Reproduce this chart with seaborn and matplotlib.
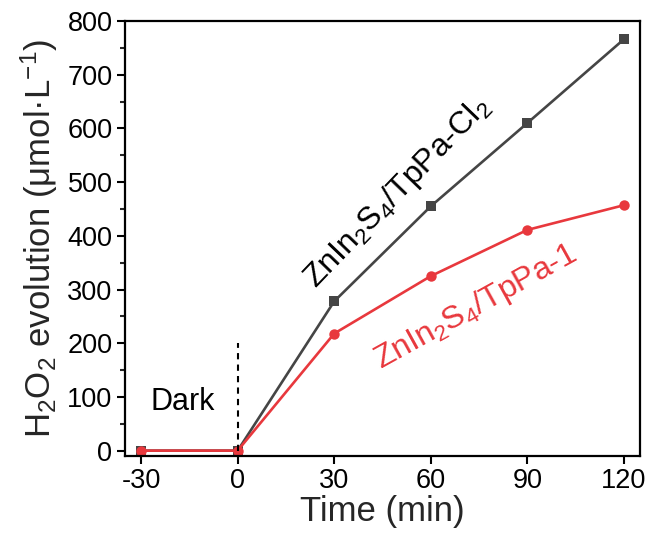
import matplotlib
matplotlib.use("Agg")
import matplotlib.pyplot as plt
import seaborn as sns
import pandas as pd
from matplotlib.ticker import MultipleLocator

time = [-30, 0, 30, 60, 90, 120]
cl2_values = [0, 0, 278, 455, 610, 766]
tp1_values = [0, 0, 218, 325, 411, 457]
x_ticks = [-30, 0, 30, 60, 90, 120]
y_ticks = [0, 100, 200, 300, 400, 500, 600, 700, 800]

sns.set_theme(style="ticks")
plt.rcParams['font.family'] = ['Liberation Sans', 'DejaVu Sans']
plt.rcParams['mathtext.fontset'] = 'custom'
plt.rcParams['mathtext.rm'] = 'Liberation Sans'
plt.rcParams['mathtext.it'] = 'Liberation Sans'

fig = plt.figure(figsize=(6.52, 5.35), dpi=100)
ax = fig.add_axes([125/652, 1-456/535, (640-125)/652, (456-21)/535])

df_cl2 = pd.DataFrame({"t": time, "v": cl2_values})
df_tp1 = pd.DataFrame({"t": time, "v": tp1_values})
gray = "#454545"
red = "#E8383D"
sns.lineplot(data=df_cl2, x="t", y="v", ax=ax, color=gray, lw=1.9,
             marker="s", markersize=6.5, markeredgewidth=0)
sns.lineplot(data=df_tp1, x="t", y="v", ax=ax, color=red, lw=1.9,
             marker="o", markersize=7.5, markeredgewidth=0)

ax.plot([0, 0], [0, 200], ls=(0, (3, 2.5)), color="black", lw=1.5)

ax.set_xlim(-35, 125)
ax.set_ylim(-10, 800)
ax.set_xticks(x_ticks)
ax.set_xticklabels([str(v) for v in x_ticks])
ax.set_yticks(y_ticks)
ax.yaxis.set_minor_locator(MultipleLocator(50))
ax.tick_params(axis='both', which='major', direction='out', length=6, width=1.5,
               labelsize=19.5, colors='black', pad=3)
ax.tick_params(axis='y', which='minor', direction='out', length=3.5, width=1.5)
for s in ax.spines.values():
    s.set_linewidth(1.6)
    s.set_color('black')

ax.set_xlabel("Time (min)", fontsize=25, labelpad=0)
ax.set_ylabel(r"H$_2$O$_2$ evolution (μmol·L$^{-1}$)", fontsize=25, labelpad=5)

ax.text(-17.2, 91, "Dark", fontsize=22, ha="center", va="center", color="black")
ax.text(49.5, 480, r"ZnIn$_2$S$_4$/TpPa-Cl$_2$", fontsize=23, ha="center", va="center",
        rotation=46, color="black", rotation_mode="anchor")
ax.text(74, 268, r"ZnIn$_2$S$_4$/TpPa-1", fontsize=23, ha="center", va="center",
        rotation=29, color=red, rotation_mode="anchor")

fig.savefig("out.png", dpi=100)
